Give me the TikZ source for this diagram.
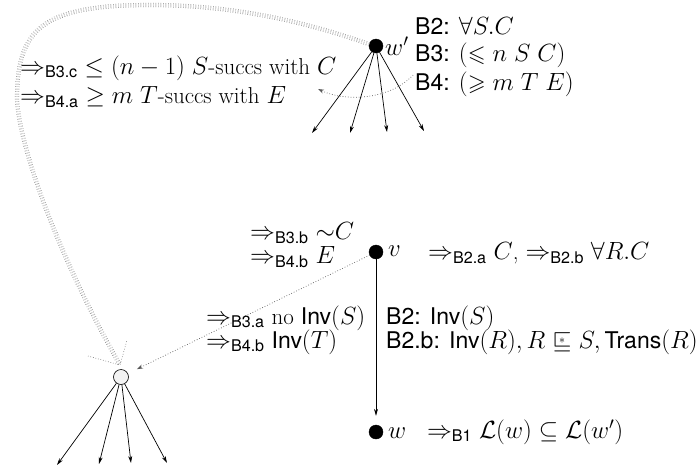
\documentclass[tikz,border=0pt]{standalone}
\usepackage{amsmath,amssymb}
\usepackage{fontspec}
\setsansfont{TeX Gyre Heros}
\usetikzlibrary{arrows.meta}
\newcommand{\rs}[1]{\Rightarrow_{\text{\sffamily #1}}}
\newcommand{\sqstar}{\mathrel{\ooalign{$\sqsubseteq$\cr\hidewidth\raise0.45ex\hbox{$\scriptscriptstyle*$}\hidewidth\cr}}}
\begin{document}
\begin{tikzpicture}[x=1pt,y=-1pt,
  lbl/.style={font=\fontsize{23}{27}\selectfont, inner sep=0pt, anchor=west},
  blackdot/.style={circle, fill=black, draw=black, minimum size=14pt, inner sep=0pt},
  whitedot/.style={circle, fill=gray!10, draw=black, line width=0.6pt, minimum size=15pt, inner sep=0pt},
  edge/.style={line width=0.7pt, -{Stealth[length=7pt,width=4pt]}},
  dotarrow/.style={gray!70!black, dotted, line width=0.7pt, -{Stealth[length=6pt,width=4pt]}},
  dbl/.style={gray!70!black, dotted, line width=0.5pt, double=white, double distance=3.2pt}]
\useasboundingbox (0,0) rectangle (697,472);

% nodes
\node[blackdot] (wp) at (376,46) {};
\node[blackdot] (v) at (376,252) {};
\node[blackdot] (w) at (376,432) {};
\node[whitedot] (u) at (121,377) {};

% w' fan
\coordinate (a1) at (312,133);
\coordinate (a2) at (350,133);
\coordinate (a3) at (387,132);
\coordinate (a4) at (424,131);
\foreach \c in {a1,a2,a3,a4} \draw[edge] (wp) -- (\c);

% circle fan
\coordinate (c1) at (57,465);
\coordinate (c2) at (99,464);
\coordinate (c3) at (131,463);
\coordinate (c4) at (167,463);
\foreach \c in {c1,c2,c3,c4} \draw[edge] (u) -- (\c);

% v -> w
\draw[edge, shorten >=9pt] (v) -- (w);
% v -> u dotted
\draw[dotarrow, shorten >=10pt] (v) -- (u);

% labels
\node[lbl] (wpl) at (385,46) {$w'$};
\node[lbl] (b2) at (415,26) {\textsf{B2:} $\forall S.C$};
\node[lbl] (b3) at (415,55) {\textsf{B3:} $(\leqslant n\ S\ C)$};
\node[lbl] (b4) at (415,84) {\textsf{B4:} $(\geqslant m\ T\ E)$};

\node[lbl] (t1) at (20,68) {$\rs{B3.c}\ \leq (n-1)\ S$-succs with $C$};
\node[lbl] (t2) at (20,97) {$\rs{B4.a}\ \geq m\ T$-succs with $E$};

\node[lbl] (vl) at (388,251) {$v$};
\node[lbl] (v1) at (428,253) {$\rs{B2.a} C$, $\rs{B2.b} \forall R.C$};
\node[lbl] (v2) at (250,233) {$\rs{B3.b} {\sim}C$};
\node[lbl] (v3) at (250,257) {$\rs{B4.b} E$};

\node[lbl] (e1) at (206,318) {$\rs{B3.a}$ no $\textsf{Inv}(S)$};
\node[lbl] (e2) at (206,342) {$\rs{B4.b}$ $\textsf{Inv}(T)$};
\node[lbl] (e3) at (386,318) {\textsf{B2:} $\textsf{Inv}(S)$};
\node[lbl] (e4) at (386,342) {\textsf{B2.b:} $\textsf{Inv}(R), R \sqstar S, \textsf{Trans}(R)$};

\node[lbl] (wl) at (388,432) {$w\ \ \rs{B1} \mathcal{L}(w) \subseteq \mathcal{L}(w')$};

% dotted curved arrow from B4 label
\draw[dotarrow] ([xshift=-2pt,yshift=9pt]b4.west) .. controls (390,100) and (345,102) .. (318,89);

% double dotted curve from w' to circle
\coordinate (tip) at (120,365);
\draw[dbl] (wp.165) .. controls (300,20) and (230,5) .. (150,5)
  .. controls (40,5) and (17,30) .. (17,100)
  .. controls (20,150) and (60,260) .. (tip);
\draw[gray!70!black, dotted, line width=0.6pt] (88,356) -- (tip) -- (127,340);
\end{tikzpicture}
\end{document}
